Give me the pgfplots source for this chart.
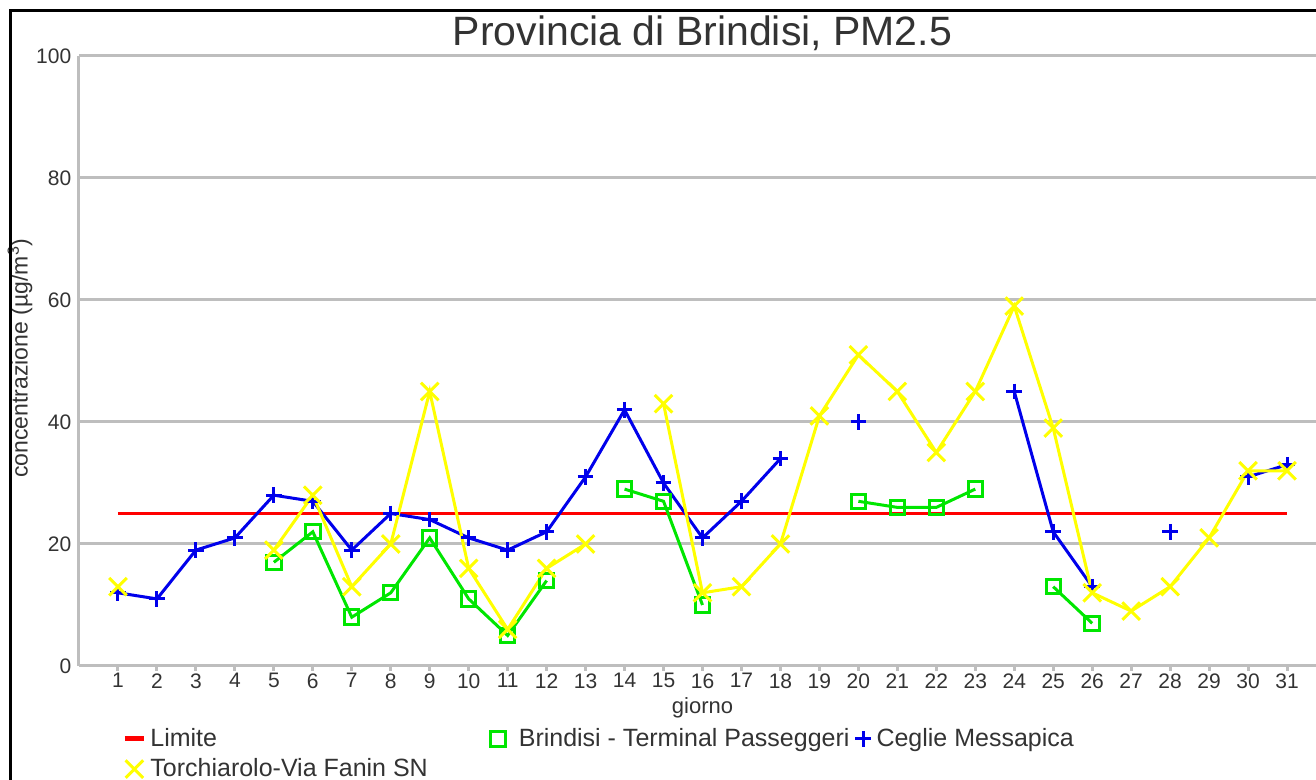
\documentclass[border=0pt]{standalone}
\usepackage{pgfplots}
\pgfplotsset{compat=1.18}
\usepackage{fontspec}
\setmainfont{Liberation Sans}
\definecolor{cblue}{RGB}{0,0,235}
\definecolor{cgreen}{RGB}{0,230,0}
\definecolor{cyellow}{RGB}{255,255,0}
\definecolor{cred}{RGB}{255,0,0}
\definecolor{gridgray}{RGB}{190,190,190}
\definecolor{txtgray}{RGB}{51,51,51}
\pgfplotsset{
  markleg/.style 2 args={legend image code/.code={\path (0pt,0pt) (#2,0pt); \draw[##1] plot coordinates {(#1,0pt)};}},
  lineleg/.style={legend image code/.code={\draw[##1, line width=2.5pt] (0pt,0pt) -- (9.5pt,0pt);}},
}
\begin{document}
\begin{tikzpicture}
\begin{axis}[
  at={(0,0)}, anchor=south west,
  scale only axis, width=623.5pt, height=305pt,
  xmin=0, xmax=32, ymin=0, ymax=100,
  xtick={1,...,31}, ytick={0,20,...,100},
  axis x line*=bottom, axis y line*=left,
  axis line style={draw=gridgray, line width=1.5pt, -},
  ymajorgrids, grid style={draw=gridgray, line width=1.5pt},
  tick align=outside, major tick length=2.5pt,
  xtick style={draw=gridgray, line width=1.5pt},
  ytick style={draw=none},
  ticklabel style={font=\fontsize{10.5}{12}\selectfont, text=txtgray},
  /pgf/number format/assume math mode=true,
  xticklabel style={inner sep=1pt},
  yticklabel style={inner sep=1.2pt},
  title={Provincia di Brindisi, PM2.5},
  title style={font=\fontsize{20.5}{24}\selectfont, text=txtgray, at={(axis description cs:0.5,1)}, anchor=base, yshift=-1pt},
  xlabel={giorno},
  xlabel style={font=\fontsize{11}{13}\selectfont, text=txtgray, at={(axis description cs:0.5,0)}, anchor=center, yshift=-21pt},
  ylabel={concentrazione (µg/m\textsuperscript{3})},
  ylabel style={font=\fontsize{11.5}{13}\selectfont, text=txtgray, at={(axis description cs:0,0.5)}, anchor=center, yshift=29.5pt, xshift=1.5pt},
  unbounded coords=jump,
  legend columns=3,
  legend style={at={(axis description cs:0,0)}, anchor=north west, xshift=21.5pt, yshift=-29pt,
    draw=none, fill=none, font=\fontsize{12.5}{14}\selectfont, text=txtgray,
    inner sep=0pt, row sep=0.5pt, column sep=0pt,
    /tikz/column 2/.append style={column sep=28.5pt},
    /tikz/column 4/.append style={column sep=0pt}},
  legend cell align=left,
]
\addplot[cred, line width=1.5pt, lineleg]
  coordinates {(1,25) (31,25)};
\addlegendentry{Limite}
\addplot[cgreen, line width=1.5pt, mark=square, mark size=3.6pt, mark options={line width=1.5pt, solid}, markleg={3.8pt}{11.5pt}]
  coordinates {(1,nan) (2,nan) (3,nan) (4,nan) (5,17) (6,22) (7,8) (8,12) (9,21) (10,11) (11,5) (12,14) (13,nan) (14,29) (15,27) (16,10) (17,nan) (18,nan) (19,nan) (20,27) (21,26) (22,26) (23,29) (24,nan) (25,13) (26,7) (27,nan) (28,nan) (29,nan) (30,nan) (31,nan)};
\addlegendentry{Brindisi - Terminal Passeggeri}
\addplot[cblue, line width=1.5pt, mark=+, mark size=3.9pt, mark options={line width=1.5pt, solid}, markleg={4pt}{8pt}]
  coordinates {(1,12) (2,11) (3,19) (4,21) (5,28) (6,27) (7,19) (8,25) (9,24) (10,21) (11,19) (12,22) (13,31) (14,42) (15,30) (16,21) (17,27) (18,34) (19,nan) (20,40) (21,nan) (22,nan) (23,nan) (24,45) (25,22) (26,13) (27,nan) (28,22) (29,nan) (30,31) (31,33)};
\addlegendentry{Ceglie Messapica}
\addplot[cyellow, line width=1.5pt, mark=x, mark size=6.2pt, mark options={line width=1.5pt, solid}, markleg={4.75pt}{9.5pt}]
  coordinates {(1,13) (2,nan) (3,nan) (4,nan) (5,19) (6,28) (7,13) (8,20) (9,45) (10,16) (11,6) (12,16) (13,20) (14,nan) (15,43) (16,12) (17,13) (18,20) (19,41) (20,51) (21,45) (22,35) (23,45) (24,59) (25,39) (26,12) (27,9) (28,13) (29,21) (30,32) (31,32)};
\addlegendentry{Torchiarolo-Via Fanin SN}
\end{axis}
\draw[black, line width=1.4pt] (-34.15pt,-80pt) -- (-34.15pt,327.65pt) -- (660pt,327.65pt);
\pgfresetboundingbox
\path[use as bounding box] (-39.5pt,-57pt) rectangle (618.5pt,333pt);
\end{tikzpicture}
\end{document}
